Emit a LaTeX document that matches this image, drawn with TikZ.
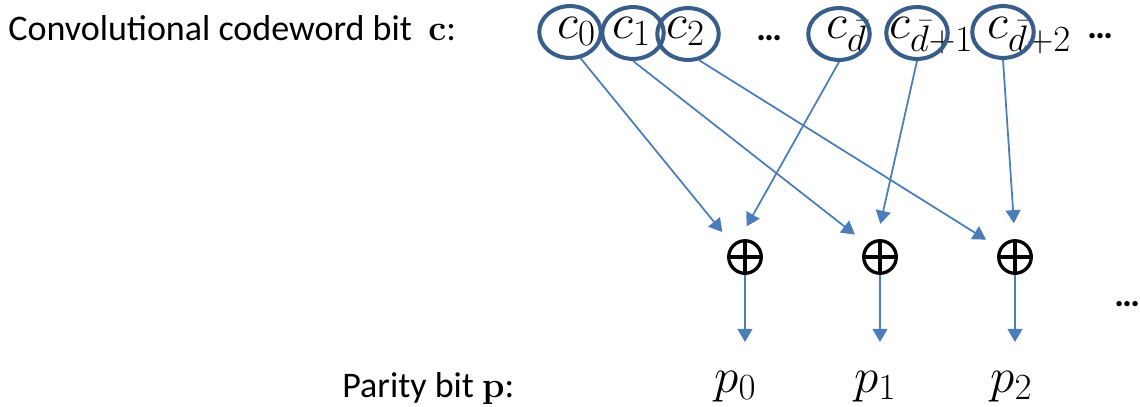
\RequirePackage{fix-cm}
\documentclass[tikz,border=0pt]{standalone}
\usepackage[no-math]{fontspec}
\setmainfont{Carlito}
\usetikzlibrary{arrows.meta,shapes.geometric}

\definecolor{ringblue}{HTML}{385D8A}
\definecolor{linkblue}{HTML}{4A7EBB}
\DeclareMathSizes{28}{28}{21}{16}

\begin{document}
\begin{tikzpicture}[x=0.02cm,y=-0.02cm,
  txt/.style={anchor=base west,inner sep=0,font=\fontsize{20.5}{24}\selectfont},
  dots/.style={txt,font=\fontsize{20.5}{24}\selectfont\bfseries},
  bitlabel/.style={anchor=base west,inner sep=0,font=\fontsize{28}{32}\selectfont},
  bitring/.style={ellipse,draw=ringblue,line width=2.3pt,inner sep=0,
    minimum width=35pt,minimum height=29.5pt},
  xor/.style={circle,draw,line width=1.9pt,inner sep=0,minimum size=18.5pt,
    path picture={
      \draw[line width=1.9pt] (path picture bounding box.north) -- (path picture bounding box.south);
      \draw[line width=1.9pt] (path picture bounding box.west) -- (path picture bounding box.east);}},
  link/.style={draw=linkblue,line width=1pt,shorten >=9pt,
    -{Triangle[width=8.5pt,length=7.5pt]}}]

\useasboundingbox (0,0) rectangle (1140,406);

% row labels
\node[txt] (rowc) at (8,40) {Convolutional codeword bit \ $\mathbf{c}$:};
\node[txt] (rowp) at (342,397) {Parity bit $\mathbf{p}$:};

% codeword bits
\node[bitlabel] (c0) at (557,38) {$c_0$};
\node[bitlabel] (c1) at (612,38) {$c_1$};
\node[bitlabel] (c2) at (666,38) {$c_2$};
\node[dots] (dotsa) at (756,40) {\ldots};
\node[bitlabel] (cd0) at (826,38) {$c_{\bar d}$};
\node[bitlabel] (cd1) at (889,38) {$c_{\bar d+1}$};
\node[bitlabel] (cd2) at (987,38) {$c_{\bar d+2}$};
\node[dots] (dotsb) at (1087,38) {\ldots};

\node[bitring] (e0) at (570,32) {};
\node[bitring] (e1) at (633,33) {};
\node[bitring] (e2) at (688,34) {};
\node[bitring] (e3) at (839,34) {};
\node[bitring] (e4) at (917,33) {};
\node[bitring] (e5) at (1003,32) {};

% xor gates and parity bits
\node[xor] (x0) at (745,257) {};
\node[xor] (x1) at (880,257) {};
\node[xor] (x2) at (1015,257) {};
\node[dots] (dotsc) at (1114,306) {\ldots};

\node[bitlabel] (p0) at (714,392) {$p_0$};
\node[bitlabel] (p1) at (854,392) {$p_1$};
\node[bitlabel] (p2) at (990,392) {$p_2$};

\draw[link] (e0.-68) -- (x0.north west);
\draw[link] (e3.south) -- (x0.110);
\draw[link] (e1.south) -- (x1.north west);
\draw[link] (e4.south) -- (x1.100);
\draw[link] (e2.-67) -- (x2.150);
\draw[link] (e5.south) -- (x2.north);

\draw[link,shorten >=0pt] (x0) -- (x0 |- 0,342);
\draw[link,shorten >=0pt] (x1) -- (x1 |- 0,342);
\draw[link,shorten >=0pt] (x2) -- (x2 |- 0,342);

\end{tikzpicture}
\end{document}
